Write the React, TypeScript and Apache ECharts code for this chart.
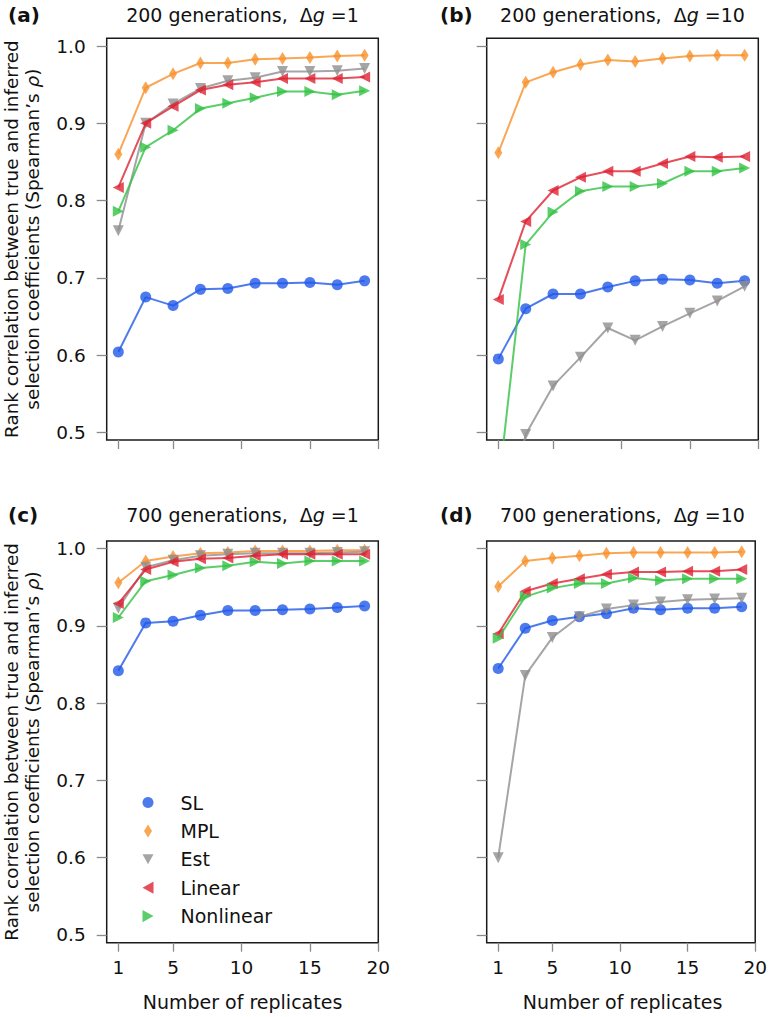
import React, { useEffect, useRef } from "react";
import * as echarts from "echarts";

const replicates = [1, 3, 5, 7, 9, 11, 13, 15, 17, 19];
const methodNames = ["SL", "MPL", "Est", "Linear", "Nonlinear"];

// Panel (a): 200 generations, Δg = 1
const slA = [0.604, 0.675, 0.664, 0.685, 0.686, 0.693, 0.693, 0.694, 0.691, 0.696];
const mplA = [0.86, 0.946, 0.964, 0.978, 0.978, 0.983, 0.984, 0.985, 0.987, 0.988];
const estA = [0.761, 0.9, 0.925, 0.945, 0.955, 0.959, 0.967, 0.967, 0.968, 0.971];
const linA = [0.817, 0.9, 0.922, 0.943, 0.95, 0.953, 0.958, 0.958, 0.958, 0.96];
const nonA = [0.786, 0.869, 0.891, 0.919, 0.926, 0.933, 0.941, 0.941, 0.937, 0.942];

// Panel (b): 200 generations, Δg = 10
const slB = [0.595, 0.66, 0.679, 0.679, 0.688, 0.696, 0.698, 0.697, 0.693, 0.696];
const mplB = [0.862, 0.953, 0.966, 0.976, 0.982, 0.98, 0.984, 0.987, 0.988, 0.988];
const estB = [0.35, 0.497, 0.56, 0.597, 0.635, 0.619, 0.637, 0.654, 0.67, 0.689];
const linB = [0.672, 0.773, 0.813, 0.83, 0.838, 0.838, 0.848, 0.857, 0.856, 0.857];
const nonB = [0.427, 0.743, 0.785, 0.812, 0.818, 0.818, 0.822, 0.838, 0.838, 0.842];

// Panel (c): 700 generations, Δg = 1
const slC = [0.842, 0.904, 0.906, 0.914, 0.92, 0.92, 0.921, 0.922, 0.924, 0.926];
const mplC = [0.956, 0.984, 0.99, 0.994, 0.995, 0.997, 0.997, 0.997, 0.998, 0.998];
const estC = [0.923, 0.976, 0.985, 0.991, 0.993, 0.994, 0.994, 0.994, 0.995, 0.996];
const linC = [0.929, 0.973, 0.983, 0.987, 0.988, 0.991, 0.993, 0.993, 0.993, 0.993];
const nonC = [0.911, 0.958, 0.966, 0.975, 0.978, 0.983, 0.981, 0.984, 0.984, 0.984];

// Panel (d): 700 generations, Δg = 10
const slD = [0.845, 0.897, 0.907, 0.912, 0.916, 0.923, 0.921, 0.923, 0.923, 0.925];
const mplD = [0.951, 0.984, 0.988, 0.991, 0.994, 0.995, 0.995, 0.995, 0.995, 0.996];
const estD = [0.6, 0.836, 0.885, 0.912, 0.922, 0.927, 0.931, 0.934, 0.935, 0.936];
const linD = [0.89, 0.945, 0.955, 0.961, 0.967, 0.97, 0.97, 0.971, 0.971, 0.973];
const nonD = [0.884, 0.938, 0.949, 0.955, 0.955, 0.962, 0.959, 0.961, 0.961, 0.961];

const yTicks = [0.5, 0.6, 0.7, 0.8, 0.9, 1.0];
const xTicks = [1, 5, 10, 15, 20];
const panelLetters = ["(a)", "(b)", "(c)", "(d)"];
const panelGenerations = [200, 200, 700, 700];
const panelDeltaG = [1, 10, 1, 10];

const panelData = [
  [slA, mplA, estA, linA, nonA],
  [slB, mplB, estB, linB, nonB],
  [slC, mplC, estC, linC, nonC],
  [slD, mplD, estD, linD, nonD],
];

const colors = ["#2159e8", "#f8912a", "#8f8f8f", "#de2232", "#33c244"];
const symbols = ["circle", "diamond", "triangle", "triangle", "triangle"];
const symbolSizes: any[] = [11, [8, 13], 11, 11, 11];
const symbolRotates = [0, 0, 180, 90, -90];
const legendIcons = [
  "circle",
  "path://M4,0L8,6.5L4,13L0,6.5Z",
  "path://M0,0L10,0L5,9Z",
  "path://M9,0L9,10L0,5Z",
  "path://M0,0L9,5L0,10Z",
];

const FONT = "DejaVu Sans";
const TICK_FS = 18.5;
const TEXT_FS = 19;

const gridLeft = [106.7, 486.7, 106.7, 486.7];
const gridTop = [38.3, 38.3, 541, 541];
const gridW = 271.6;
const gridH = 401.7;

export default function App() {
  const ref = useRef<HTMLDivElement>(null);
  useEffect(() => {
    if (!ref.current) return;
    const chart = echarts.init(ref.current, null, { renderer: "svg" });

    const grids = gridLeft.map((l, i) => ({
      left: l,
      top: gridTop[i],
      width: gridW,
      height: gridH,
      show: true,
      borderColor: "#1a1a1a",
      borderWidth: 1.5,
      backgroundColor: "transparent",
    }));

    const xAxes = gridLeft.map((_, i) => ({
      type: "value",
      gridIndex: i,
      min: 0.15,
      max: 20,
      axisLine: { show: false },
      splitLine: { show: false },
      axisTick: {
        show: true,
        length: 9,
        customValues: xTicks,
        lineStyle: { color: "#8a8a8a", width: 1.3 },
      },
      axisLabel: {
        show: i >= 2,
        customValues: xTicks,
        margin: 15,
        fontFamily: FONT,
        fontSize: TICK_FS,
        color: "#111",
        formatter: (v: number) => String(v),
      },
    }));

    const yAxes = gridLeft.map((_, i) => ({
      type: "value",
      gridIndex: i,
      min: 0.49,
      max: 1.01,
      axisLine: { show: false },
      splitLine: { show: false },
      axisTick: {
        show: true,
        length: 10,
        customValues: yTicks,
        lineStyle: { color: "#8a8a8a", width: 1.3 },
      },
      axisLabel: {
        show: i % 2 === 0,
        customValues: yTicks,
        margin: 21,
        fontFamily: FONT,
        fontSize: TICK_FS,
        color: "#111",
        formatter: (v: number) => v.toFixed(1),
      },
    }));

    const series: any[] = [];
    panelData.forEach((arrs, p) => {
      arrs.forEach((vals, m) => {
        series.push({
          type: "line",
          name: methodNames[m],
          xAxisIndex: p,
          yAxisIndex: p,
          data: replicates.map((x, k) => [x, vals[k]]),
          symbol: symbols[m],
          symbolSize: symbolSizes[m],
          symbolRotate: symbolRotates[m],
          showSymbol: true,
          clip: true,
          lineStyle: { color: colors[m], width: 2, opacity: 0.8 },
          itemStyle: { color: colors[m], opacity: 0.8 },
          emphasis: { disabled: true },
          z: 2 + m,
        });
      });
    });

    const graphics: any[] = [];
    panelLetters.forEach((letter, i) => {
      const cx = gridLeft[i] + gridW / 2;
      const ty = i < 2 ? 15 : 515;
      const lx = i % 2 === 0 ? 8 : 440;
      graphics.push({
        type: "text",
        x: lx,
        y: ty,
        style: {
          text: letter,
          fontFamily: FONT,
          fontWeight: "bold",
          fontSize: 20,
          fill: "#111",
          verticalAlign: "middle",
          align: "left",
        },
      });
      graphics.push({
        type: "text",
        x: cx,
        y: ty,
        style: {
          text: `{n|${panelGenerations[i]} generations,  Δ}{i|g}{n| =${panelDeltaG[i]}}`,
          align: "center",
          verticalAlign: "middle",
          rich: {
            n: { fontFamily: FONT, fontSize: TEXT_FS, fill: "#111" },
            i: { fontFamily: FONT, fontStyle: "italic", fontSize: TEXT_FS, fill: "#111" },
          },
        },
      });
    });

    [0, 2].forEach((i) => {
      const cy = gridTop[i] + gridH / 2;
      graphics.push({
        type: "text",
        x: 22,
        y: cy,
        rotation: Math.PI / 2,
        style: {
          text: "{n|Rank correlation between true and inferred}\n{n|selection coefficients (Spearman’s }{i|ρ}{n|)}",
          align: "center",
          verticalAlign: "middle",
          rich: {
            n: { fontFamily: FONT, fontSize: 18.4, fill: "#111", lineHeight: 21, align: "center" },
            i: { fontFamily: FONT, fontStyle: "italic", fontSize: 18.4, fill: "#111", lineHeight: 21 },
          },
        },
      });
    });
    [2, 3].forEach((i) => {
      graphics.push({
        type: "text",
        x: gridLeft[i] + gridW / 2,
        y: 1002,
        style: {
          text: "Number of replicates",
          fontFamily: FONT,
          fontSize: TEXT_FS,
          fill: "#111",
          align: "center",
          verticalAlign: "middle",
        },
      });
    });

    chart.setOption({
      animation: false,
      backgroundColor: "#ffffff",
      grid: grids,
      xAxis: xAxes,
      yAxis: yAxes,
      series,
      legend: {
        orient: "vertical",
        left: 137.5,
        top: 787.5,
        itemWidth: 11,
        itemHeight: 13,
        itemGap: 8.4,
        symbolKeepAspect: true,
        selectedMode: false,
        textStyle: {
          fontFamily: FONT,
          fontSize: TEXT_FS,
          color: "#111",
          lineHeight: 20,
          padding: [0, 0, 0, 22],
        },
        data: methodNames.map((n, m) => ({
          name: n,
          icon: legendIcons[m],
          itemStyle: { color: colors[m], opacity: 0.8 },
        })),
      },
      graphic: graphics,
    });
    return () => chart.dispose();
  }, []);

  return (
    <div
      ref={ref}
      style={{ position: "fixed", left: 0, top: 0, width: 770, height: 1017, background: "#fff" }}
    />
  );
}
